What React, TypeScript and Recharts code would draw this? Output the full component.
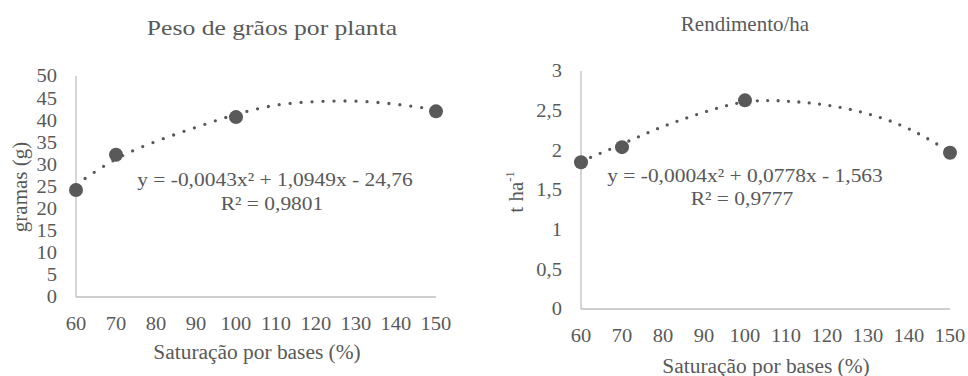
import React from 'react';
import { ComposedChart, Line, Scatter, XAxis, YAxis } from 'recharts';

// saturação por bases (%)
const satX = [60, 70, 100, 150];
const pesoY = [24.2, 32.2, 40.7, 42.0];
const rendY = [1.85, 2.04, 2.63, 1.97];

// dotted trendlines
const trendX = [60, 70, 80, 90, 100, 110, 120, 130, 140, 150];
const pesoTrend = [25.4, 31.2, 35.2, 38.4, 41.3, 43.4, 44.2, 44.3, 43.6, 42.4];
const rendTrend = [1.86, 2.08, 2.3, 2.48, 2.61, 2.62, 2.57, 2.46, 2.27, 1.98];

const xTicks = [60, 70, 80, 90, 100, 110, 120, 130, 140, 150];
const pesoTicks = [0, 5, 10, 15, 20, 25, 30, 35, 40, 45, 50];
const rendTicks = [0, 0.5, 1, 1.5, 2, 2.5, 3];

const FONT = "'Liberation Serif'";
const TEXT = '#595959';
const AXIS = '#bfbfbf';

const pesoPoints = satX.map((x, i) => ({ x, y: pesoY[i] }));
const rendPoints = satX.map((x, i) => ({ x, y: rendY[i] }));
const pesoLine = trendX.map((x, i) => ({ x, y: pesoTrend[i] }));
const rendLine = trendX.map((x, i) => ({ x, y: rendTrend[i] }));

const fmt = (v: number) => String(v).replace('.', ',');

function SText({ x, y, size, sx = 1, anchor = 'middle', rotate = 0, children }: any) {
  return (
    <text
      transform={`translate(${x} ${y}) rotate(${rotate}) scale(${sx} 1)`}
      textAnchor={anchor}
      fill={TEXT}
      style={{ fontFamily: FONT, fontSize: size }}
    >
      {children}
    </text>
  );
}

const yTick = (p: any) => (
  <SText x={p.x} y={p.y} size={19} sx={1.08} anchor="end">
    <tspan dy="0.34em">{fmt(p.payload.value)}</tspan>
  </SText>
);

const xTick = (p: any) => (
  <SText x={p.x} y={p.y} size={19} sx={1.08}>
    <tspan dy="0.71em">{fmt(p.payload.value)}</tspan>
  </SText>
);

const dot = (p: any) => <circle cx={p.cx} cy={p.cy} r={7} fill={TEXT} />;

function Panel({ points, trend, domain, ticks, width, margin, yWidth, xHeight, xMargin, dash }: any) {
  return (
    <ComposedChart width={width} height={376} margin={margin}>
      <XAxis
        type="number"
        dataKey="x"
        domain={[60, 150]}
        ticks={xTicks}
        height={xHeight}
        axisLine={{ stroke: AXIS, strokeWidth: 1.3 }}
        tickLine={false}
        tickSize={0}
        tickMargin={xMargin}
        tick={xTick}
        interval={0}
      />
      <YAxis
        type="number"
        domain={domain}
        ticks={ticks}
        width={yWidth}
        axisLine={{ stroke: AXIS, strokeWidth: 1.3 }}
        tickLine={false}
        tickSize={0}
        tickMargin={19}
        tick={yTick}
        interval={0}
      />
      <Line
        data={trend}
        dataKey="y"
        type="natural"
        stroke={TEXT}
        strokeWidth={3.3}
        strokeDasharray={dash}
        strokeLinecap="round"
        dot={false}
        activeDot={false}
        isAnimationActive={false}
      />
      <Scatter data={points} dataKey="y" shape={dot} isAnimationActive={false} />
    </ComposedChart>
  );
}

export default function App() {
  return (
    <div style={{ position: 'absolute', left: 0, top: 0, width: 968, height: 376, background: '#fff' }}>
      <div style={{ position: 'absolute', left: 0, top: 0 }}>
        <Panel
          points={pesoPoints}
          trend={pesoLine}
          domain={[0, 50]}
          ticks={pesoTicks}
          width={480}
          margin={{ top: 76, right: 44, bottom: 0, left: 0 }}
          yWidth={76}
          xHeight={79}
          xMargin={19.5}
          dash="0 11"
        />
      </div>
      <div style={{ position: 'absolute', left: 480, top: 0 }}>
        <Panel
          points={rendPoints}
          trend={rendLine}
          domain={[0, 3]}
          ticks={rendTicks}
          width={488}
          margin={{ top: 71, right: 18, bottom: 0, left: 0 }}
          yWidth={101}
          xHeight={67}
          xMargin={20}
          dash="0 10.4"
        />
      </div>
      <svg
        width={968}
        height={376}
        style={{ position: 'absolute', left: 0, top: 0, pointerEvents: 'none' }}
      >
        <SText x={272} y={35} size={21} sx={1.22}>Peso de grãos por planta</SText>
        <SText x={745} y={31} size={21}>Rendimento/ha</SText>

        <SText x={21} y={187} size={20} sx={1.05} rotate={-90}>
          <tspan dy="0.3em">gramas (g)</tspan>
        </SText>
        <SText x={517} y={192} size={20} sx={1.05} rotate={-90}>
          <tspan dy="0.3em">t ha</tspan>
          <tspan style={{ fontSize: 12 }} dy="-0.75em">-1</tspan>
        </SText>

        <SText x={257} y={359} size={20} sx={1.07}>Saturação por bases (%)</SText>
        <SText x={766} y={373} size={20} sx={1.07}>Saturação por bases (%)</SText>

        <SText x={275} y={186} size={19} sx={1.13}>y = -0,0043x² + 1,0949x - 24,76</SText>
        <SText x={272} y={210} size={19} sx={1.13}>R² = 0,9801</SText>
        <SText x={745} y={182} size={19} sx={1.13}>y = -0,0004x² + 0,0778x - 1,563</SText>
        <SText x={742} y={205} size={19} sx={1.13}>R² = 0,9777</SText>
      </svg>
    </div>
  );
}
